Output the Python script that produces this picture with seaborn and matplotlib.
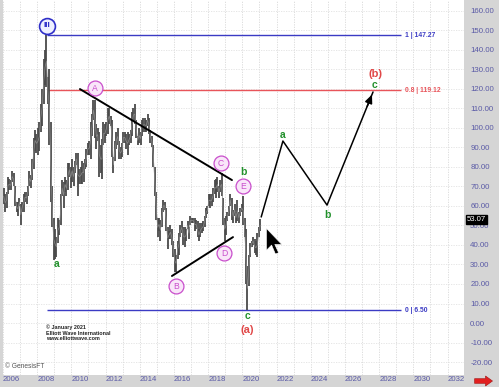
import numpy as np
import pandas as pd
import matplotlib
matplotlib.use("Agg")
import matplotlib.pyplot as plt
import matplotlib.transforms as mtrans
from matplotlib.patches import FancyArrow
import seaborn as sns

sns.set_style("white")
plt.rcParams["font.family"] = ["Liberation Sans", "DejaVu Sans"]

# ---------------- data (monthly high / low, Jan 2006 .. Jan 2021) ----------------
highs = [
    69, 66, 67, 75, 74, 73, 78, 77, 70, 62, 62, 64,          # 2006
    61, 62, 66, 67, 67, 70, 78, 76, 84, 95, 99, 97,          # 2007
    100, 103, 112, 120, 135, 140, 147.27, 126, 130, 103, 70, 54,  # 2008
    48, 44, 54, 53, 66, 73, 72, 75, 73, 82, 82, 80,          # 2009
    84, 80, 83, 87, 87, 79, 80, 83, 82, 84, 89, 92,          # 2010
    93, 103, 107, 114, 114, 102, 100, 98, 91, 94, 103, 102,  # 2011
    103, 110, 110, 106, 104, 85, 93, 98, 100, 93, 90, 92,    # 2012
    98, 98, 97, 98, 97, 99, 108, 110, 112, 104, 96, 100,     # 2013
    98, 104, 105, 105, 104, 107, 105, 99, 96, 91, 80, 67,    # 2014
    54, 54, 53, 59, 63, 62, 59, 49, 47, 50, 48, 42,          # 2015
    38, 35, 42, 46, 50, 52, 49, 49, 48, 52, 49, 55,          # 2016
    54, 54, 54, 53, 52, 48, 51, 51, 52, 55, 59, 60,          # 2017
    66, 66, 66, 69, 73, 74, 75, 70, 73, 77, 64, 54,          # 2018
    55, 57, 60, 66, 64, 58, 61, 57, 63, 57, 59, 61,          # 2019
    65, 54, 48, 29, 35, 41, 42, 44, 43, 42, 46, 49,          # 2020
    53.07,                                                   # 2021
]
lows = [
    61, 57, 59, 66, 68, 68, 72, 70, 60, 57, 55, 60,
    50, 57, 57, 62, 61, 65, 70, 69, 73, 79, 88, 87,
    86, 88, 98, 101, 112, 122, 121, 112, 91, 62, 49, 32.5,
    33, 34, 41, 45, 50, 65, 59, 67, 65, 68, 75, 69,
    72, 70, 77, 81, 65, 71, 71, 71, 72, 79, 80, 86,
    86, 84, 96, 104, 95, 89, 93, 75, 77, 74, 91, 92,
    96, 97, 102, 101, 85, 77, 83, 89, 91, 84, 84, 85,
    92, 92, 89, 86, 91, 92, 96, 103, 102, 95, 91, 92,
    91, 96, 98, 98, 98, 101, 97, 92, 90, 80, 65, 53,
    44, 47, 42, 49, 57, 58, 47, 38, 43, 43, 40, 34,
    26, 26, 33, 35, 44, 46, 40, 39, 42, 48, 43, 50,
    51, 51, 47, 48, 44, 42, 44, 46, 47, 49, 54, 56,
    60, 59, 60, 62, 66, 64, 67, 64, 67, 65, 50, 42,
    45, 52, 55, 60, 53, 51, 55, 51, 52, 51, 55, 57,
    50, 44, 20, 6.50, 19, 34, 39, 40, 36, 35, 34, 44,
    47,
]
months = pd.date_range("2006-01-01", periods=len(highs), freq="MS")
month_pos = months.year + (months.month - 0.5) / 12.0

# projected path
proj_x = [2021.1, 2022.37, 2024.95, 2027.64]
proj_y = [54.3, 93.2, 60.4, 118.3]

# trendlines
upper_x = [2010.5, 2019.39]
upper_y = [119.8, 73.2]
lower_x = [2015.88, 2019.45]
lower_y = [24.1, 44.0]

# fibonacci levels
fib_vals = [147.27, 119.12, 6.50]
fib_labels = ["1 | 147.27", "0.8 | 119.12", "0 | 6.50"]
fib_colors = ["#3b3bc4", "#e8545a", "#3b3bc4"]
fib_start = 2008.57
fib_end = 2029.27

# circled wave labels
circ_labels = ["A", "B", "C", "D", "E"]
circ_x = [2011.38, 2016.12, 2018.75, 2018.92, 2020.04]
circ_y = [120.3, 18.9, 81.9, 35.8, 70.1]

# green wave labels
green_labels = ["a", "b", "c", "a", "b", "c"]
green_x = [2009.16, 2020.04, 2020.27, 2022.37, 2025.0, 2027.75]
green_y = [30.2, 77.3, 3.6, 96.3, 55.3, 121.9]

# red degree labels
red_labels = ["(a)", "(b)"]
red_x = [2020.27, 2027.81]
red_y = [-3.8, 127.3]

last_price = 53.07
year_ticks = list(range(2006, 2033, 2))
price_ticks = list(range(-20, 161, 10))

# ---------------- figure ----------------
fig = plt.figure(figsize=(4.99, 3.87), dpi=100, facecolor="#d5d5d5")
ax = fig.add_axes([3 / 499, 12 / 387, 461 / 499, 375 / 387])
ax.set_facecolor("white")
ax.set_xlim(2006.0, 2032.96)
ax.set_ylim(-26.6, 165.4)

ax.set_xticks(year_ticks)
ax.set_xticks(range(2006, 2033), minor=True)
ax.set_yticks(price_ticks)
ax.grid(True, which="both", axis="x", color="#d8d8d8", ls=(0, (1.5, 1.5)), lw=0.6)
ax.grid(True, which="major", axis="y", color="#e2e2e2", ls=(0, (1.5, 1.5)), lw=0.6)
for s in ax.spines.values():
    s.set_visible(False)

ax.yaxis.tick_right()
ax.set_yticklabels([f"{v:.2f}" for v in price_ticks])
ax.set_xticklabels([str(y) for y in year_ticks], ha="left")
ax.tick_params(axis="y", which="both", length=0, pad=4.5, labelsize=5.7, labelcolor="#5a5aa6")
ax.tick_params(axis="x", which="both", length=0, pad=1.0, labelsize=5.6, labelcolor="#5a5aa6")

# price bars
ax.vlines(month_pos, lows, highs, color="#4a4a4a", lw=1.3, zorder=3)
mid = (np.array(highs) + np.array(lows)) / 2
sns.lineplot(x=month_pos, y=mid, ax=ax, color="#8a8a8a", lw=0.5, zorder=4)

# fib levels
for v, lab, c in zip(fib_vals, fib_labels, fib_colors):
    ax.hlines(v, fib_start, fib_end, color=c, lw=1.0, zorder=2)
    ax.text(fib_end + 0.22, v, lab, color=c, fontsize=4.9, fontweight="bold",
            va="center", ha="left")

# trendlines
sns.lineplot(x=upper_x, y=upper_y, ax=ax, color="black", lw=1.4, zorder=5)
sns.lineplot(x=lower_x, y=lower_y, ax=ax, color="black", lw=1.4, zorder=5)

# projected path
sns.lineplot(x=proj_x, y=proj_y, ax=ax, color="black", lw=1.1, zorder=5, sort=False)
ax.annotate("", xy=(proj_x[-1], proj_y[-1]), xytext=(proj_x[-2] + 0.85*(proj_x[-1]-proj_x[-2]),
            proj_y[-2] + 0.85*(proj_y[-1]-proj_y[-2])),
            arrowprops=dict(arrowstyle="-|>,head_length=0.5,head_width=0.22", color="black", lw=1.1),
            zorder=5)

# circled labels
ax.scatter(circ_x, circ_y, s=115, facecolor="#f9e6f9", edgecolor="#c94fcc", lw=0.9, zorder=6)
for t, x, y in zip(circ_labels, circ_x, circ_y):
    ax.text(x, y, t, color="#c94fcc", fontsize=6.2, ha="center", va="center", zorder=7)

# wave III circle
ax.scatter([2008.57], [152.1], s=130, facecolor="#eef0ff", edgecolor="#2f2fc8", lw=1.2, zorder=6)
ax.text(2008.57, 152.1, "III", color="#2f2fc8", fontsize=6.0, fontweight="bold",
        ha="center", va="center", zorder=7)

for t, x, y in zip(green_labels, green_x, green_y):
    ax.text(x, y, t, color="#23912d", fontsize=7.5, fontweight="bold", ha="center", va="center", zorder=7)
for t, x, y in zip(red_labels, red_x, red_y):
    ax.text(x, y, t, color="#e04848", fontsize=8, fontweight="bold", ha="center", va="center", zorder=7)

# last price tag
blend = mtrans.blended_transform_factory(ax.transAxes, ax.transData)
ax.text(1.006, last_price, f"{last_price:.2f}", transform=blend, color="white", fontsize=5.6,
        ha="left", va="center", clip_on=False, zorder=10,
        bbox=dict(boxstyle="square,pad=0.15", fc="black", ec="black"))

# copyright text
ax.text(0.093, 0.135, "© January 2021\nElliott Wave International\nwww.elliottwave.com",
        transform=ax.transAxes, fontsize=3.9, color="#222222", fontweight="bold",
        ha="left", va="top", linespacing=1.15)
ax.text(0.005, 0.012, "© GenesisFT", transform=ax.transAxes, fontsize=4.8, color="#555555",
        ha="left", va="bottom")

# mouse cursor
cursor = [(0, 0), (0, -17), (4, -13), (7, -20), (9.5, -19), (6.5, -12.5), (12, -12.5), (0, 0)]
ax.scatter([2021.37], [48.6], marker=cursor, s=1350, color="black", edgecolor="white",
           lw=0.4, zorder=8)

# red arrow in corner
fig.patches.append(FancyArrow(0.951, 0.0155, 0.022, 0, width=0.012, head_width=0.026,
                              head_length=0.014, length_includes_head=False,
                              transform=fig.transFigure, color="#e22020", ec="#a01010", lw=0.4))

ax.set_xlabel("")
ax.set_ylabel("")
ax.xaxis.label.set_visible(False)
ax.yaxis.label.set_visible(False)

fig.savefig("out.png", dpi=100, facecolor=fig.get_facecolor())
